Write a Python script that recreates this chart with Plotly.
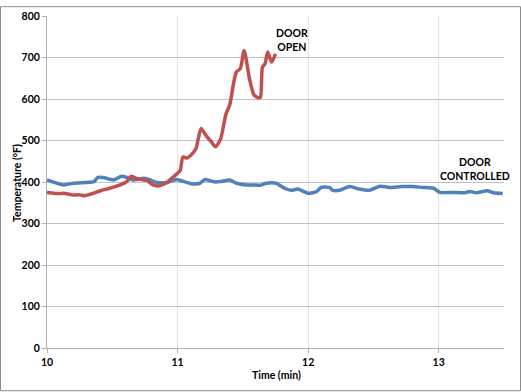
import plotly.graph_objects as go

# Door open (red) series
open_t = [10.0, 10.1, 10.13, 10.19, 10.25, 10.29, 10.355, 10.41, 10.48, 10.56, 10.61, 10.645,
          10.68, 10.74, 10.77, 10.81, 10.86, 10.917, 10.97, 11.02, 11.04, 11.07, 11.1, 11.14,
          11.18, 11.22, 11.26, 11.29, 11.33, 11.37, 11.40, 11.42, 11.45, 11.48, 11.51, 11.55,
          11.585, 11.62, 11.635, 11.65, 11.67, 11.69, 11.72, 11.75]
open_v = [375, 372, 373, 369, 369, 367, 373, 379, 385, 393, 401, 414,
          409, 405, 403, 393, 391, 399, 413, 428, 460, 458, 464, 480,
          529, 511, 496, 485, 504, 563, 586, 622, 665, 673, 717, 650,
          610, 603, 604, 677, 685, 713, 689, 709]

# Door controlled (blue) series
ctrl_t = [10.0, 10.125, 10.2, 10.30, 10.36, 10.39, 10.43, 10.51, 10.57, 10.61, 10.66, 10.74,
          10.78, 10.84, 10.92, 10.99, 11.07, 11.12, 11.17, 11.21, 11.25, 11.29, 11.33, 11.40,
          11.45, 11.53, 11.58, 11.63, 11.68, 11.755, 11.82, 11.87, 11.92, 12.0, 12.065, 12.10,
          12.16, 12.19, 12.24, 12.32, 12.39, 12.47, 12.55, 12.62, 12.72, 12.80, 12.875, 12.96,
          13.01, 13.11, 13.19, 13.24, 13.29, 13.37, 13.42, 13.49]
ctrl_v = [405, 393, 397, 399, 401, 411, 411, 405, 414, 411, 405, 409,
          406, 399, 399, 406, 399, 395, 397, 406, 403, 400, 401, 405,
          397, 393, 393, 392, 397, 397, 385, 380, 383, 373, 377, 387,
          387, 380, 380, 389, 383, 380, 390, 387, 389, 389, 387, 385,
          375, 375, 374, 377, 374, 379, 374, 372]

x_ticks = [10, 11, 12, 13]
y_ticks = [0, 100, 200, 300, 400, 500, 600, 700, 800]

FONT = "Lato"
FS = 10.5

fig = go.Figure()
fig.add_trace(go.Scatter(x=ctrl_t, y=ctrl_v, mode="lines", name="DOOR CONTROLLED",
                         line=dict(color="#4F81BD", width=3.5, shape="spline", smoothing=0.6)))
fig.add_trace(go.Scatter(x=open_t, y=open_v, mode="lines", name="DOOR OPEN",
                         line=dict(color="#C0504D", width=3.5, shape="spline", smoothing=0.6)))

fig.add_annotation(x=11.88, y=742, text="<b>DOOR<br>OPEN</b>", showarrow=False,
                   font=dict(family=FONT, size=FS, color="#000"), xanchor="center", yanchor="middle")
fig.add_annotation(x=13.28, y=432, text="<b>DOOR<br>CONTROLLED</b>", showarrow=False,
                   font=dict(family=FONT, size=FS, color="#000"), xanchor="center", yanchor="middle")

W, H, L, R, T, B = 521, 392, 47, 17, 10, 44
pw, ph = W - L - R, H - T - B

# axis titles placed as text annotations
fig.add_annotation(xref="paper", yref="paper", x=(17 - L) / pw, y=(H - B - 180) / ph,
                   text="<b>Temperature (°F)</b>", textangle=-90, showarrow=False,
                   font=dict(family=FONT, size=FS, color="#000"), xanchor="center", yanchor="middle")
fig.add_annotation(xref="paper", yref="paper", x=(276 - L) / pw, y=(H - B - 375) / ph,
                   text="<b>Time (min)</b>", showarrow=False,
                   font=dict(family=FONT, size=FS, color="#000"), xanchor="center", yanchor="middle")

fig.add_shape(type="rect", xref="paper", yref="paper",
              x0=(0.5 - L) / pw, x1=(W - 0.5 - L) / pw,
              y0=(H - B - (H - 0.5)) / ph, y1=(H - B - 0.5) / ph,
              line=dict(color="#8c8c8c", width=1), fillcolor="rgba(0,0,0,0)", layer="below")

fig.update_layout(
    width=W, height=H, margin=dict(l=L, r=R, t=T, b=B),
    paper_bgcolor="white", plot_bgcolor="white", showlegend=False,
    font=dict(family=FONT, size=FS, color="#000"),
    xaxis=dict(range=[10, 13.5], tickvals=x_ticks, ticktext=[str(v) for v in x_ticks],
               showgrid=True, gridcolor="#e3e3e3", gridwidth=1,
               showline=True, linecolor="#b0b0b0", zeroline=False,
               ticks="outside", ticklen=4, tickcolor="#b0b0b0",
               tickfont=dict(family=FONT, size=FS, weight="bold")),
    yaxis=dict(range=[0, 800], tickvals=y_ticks, ticktext=[str(v) for v in y_ticks],
               showgrid=True, gridcolor="#c4c4c4", gridwidth=1,
               showline=True, linecolor="#b0b0b0", zeroline=False,
               ticks="outside", ticklen=4, tickcolor="#b0b0b0",
               tickfont=dict(family=FONT, size=FS, weight="bold")),
)

fig.write_html("out.html")
